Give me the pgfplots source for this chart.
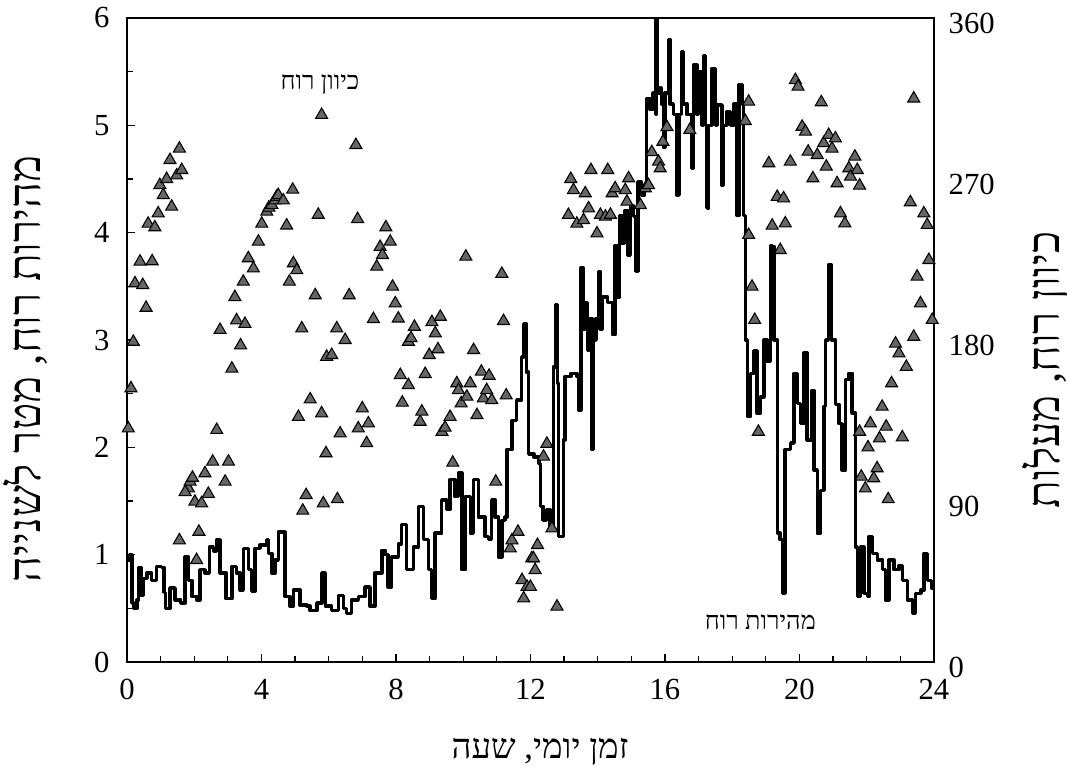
\documentclass[border=0pt]{standalone}
\usepackage{fontspec}
\setmainfont{Liberation Serif}
\newfontfamily\hebfont[Script=Hebrew]{Liberation Serif}
\usepackage{pgfplots}
\pgfplotsset{compat=1.18}
\TeXXeTstate=1
\newcommand{\heb}[1]{{\hebfont\beginR #1\endR}}

\pgfplotstableread{
h s
0 0.95
0.08 1.0
0.15 0.55
0.2 0.5
0.3 0.58
0.35 0.88
0.42 0.62
0.5 0.78
0.6 0.83
0.73 0.76
0.88 0.89
1.03 0.88
1.1 0.65
1.15 0.5
1.28 0.69
1.43 0.58
1.6 0.55
1.73 0.98
1.83 0.76
1.93 0.61
2.08 0.58
2.17 0.86
2.32 0.83
2.45 1.07
2.57 1.03
2.67 1.14
2.77 0.83
2.95 0.59
3.12 0.89
3.26 0.83
3.36 0.67
3.46 1.06
3.61 0.86
3.71 0.66
3.81 1.06
3.96 1.09
4.16 1.14
4.21 1.01
4.31 0.83
4.41 0.95
4.5 1.21
4.65 1.21
4.7 0.61
4.85 0.52
4.95 0.67
5.15 0.53
5.35 0.52
5.45 0.48
5.65 0.55
5.8 0.83
5.9 0.52
6.09 0.48
6.29 0.62
6.44 0.5
6.53 0.45
6.68 0.58
6.88 0.61
7.08 0.7
7.23 0.52
7.38 0.83
7.58 1.04
7.68 1.0
7.77 0.7
7.87 0.98
8.07 1.1
8.17 1.28
8.32 0.86
8.52 1.07
8.67 1.45
8.82 1.14
8.97 0.86
9.06 0.59
9.16 1.2
9.36 1.51
9.51 1.42
9.61 1.7
9.76 1.54
9.86 1.76
9.96 0.86
10.06 1.54
10.21 1.2
10.3 1.7
10.45 1.35
10.65 1.17
10.75 1.14
10.85 1.51
10.95 1.35
11.05 0.98
11.15 1.32
11.25 1.35
11.3 1.98
11.45 2.25
11.59 2.44
11.74 2.84
11.8 3.15
11.88 2.7
11.95 1.94
12.1 1.91
12.25 1.85
12.3 1.45
12.38 1.32
12.48 1.42
12.58 1.26
12.68 2.75
12.75 3.33
12.8 2.6
12.83 1.17
12.93 1.17
12.98 2.07
13.03 2.66
13.2 2.69
13.38 2.66
13.43 2.35
13.5 3.67
13.57 3.1
13.62 3.35
13.7 2.9
13.75 3.2
13.83 1.98
13.88 3.0
13.95 3.2
14.02 3.64
14.07 3.1
14.15 3.4
14.3 3.35
14.45 3.05
14.52 3.88
14.58 3.4
14.65 4.16
14.72 3.9
14.8 4.2
14.9 3.79
14.97 4.25
15.07 4.15
15.14 3.64
15.2 4.47
15.3 4.35
15.4 4.45
15.46 5.25
15.55 5.15
15.65 5.3
15.72 5.1
15.74 6.0
15.78 5.3
15.85 5.35
15.9 5.2
15.95 4.8
16.0 5.3
16.1 5.8
16.15 5.2
16.25 5.1
16.36 4.35
16.42 5.1
16.5 5.69
16.55 5.2
16.65 5.1
16.8 4.6
16.85 5.56
16.95 5.1
17.0 5.5
17.1 5.0
17.15 5.65
17.2 5.0
17.25 4.23
17.3 5.0
17.4 5.53
17.5 5.0
17.55 5.19
17.7 4.44
17.75 5.0
17.85 5.13
17.95 5.0
18.05 5.2
18.14 4.16
18.2 5.38
18.3 5.2
18.33 4.16
18.4 3.0
18.45 2.29
18.55 2.69
18.65 2.9
18.74 2.32
18.84 2.47
18.94 3.0
19.04 2.8
19.14 3.88
19.2 3.87
19.25 3.0
19.35 1.2
19.42 1.14
19.49 0.64
19.57 1.98
19.74 2.04
19.84 2.69
19.94 2.41
20.04 2.22
20.13 2.88
20.23 2.07
20.38 2.53
20.43 1.79
20.53 1.2
20.63 1.6
20.73 2.38
20.78 3.0
20.86 3.7
20.95 3.0
21.08 2.4
21.18 2.22
21.27 1.79
21.37 2.63
21.47 2.69
21.57 2.32
21.67 1.07
21.72 0.61
21.82 1.07
21.92 0.64
22.02 0.61
22.07 1.17
22.17 1.01
22.32 0.95
22.47 0.86
22.56 0.58
22.66 0.95
22.81 0.86
22.96 0.9
23.06 0.76
23.21 0.58
23.36 0.45
23.46 0.64
23.61 0.67
23.71 1.01
23.81 0.76
23.93 0.69
24.0 0.7
}\speed

\pgfplotstableread{
h d
0.04 130.6
0.12 153
0.19 179
0.24 211.7
0.39 223.8
0.47 210.7
0.57 198
0.63 245
0.75 224
0.83 243
0.93 250.8
0.98 266.6
1.08 261
1.18 270
1.28 280.6
1.33 254.5
1.48 272
1.56 287
1.63 275
1.56 68
1.83 97
1.88 100.8
1.95 103
1.73 95
2.02 89.6
2.07 57
2.14 72.8
2.22 88.7
2.32 105.5
2.42 94
2.55 112
2.67 129.7
2.77 185.6
2.92 100.8
3.02 112
3.12 164
3.21 204
3.26 191
3.38 177
3.46 212.6
3.51 189
3.61 225.7
3.76 220
3.91 235
4.01 245
4.16 251.7
4.22 254
4.31 255.5
4.4 258
4.45 260
4.5 261
4.65 258
4.75 244
4.83 212.6
4.93 264
4.95 222.9
5.05 219
5.1 137
5.2 186.5
5.23 84.6
5.33 93.3
5.45 146.8
5.6 205
5.69 250
5.79 305.8
5.79 139
5.84 88.7
5.92 116.7
5.94 170.6
6.09 171.6
6.24 186.5
6.34 127.8
6.49 180
6.26 91
6.61 205
6.81 289
6.86 247.6
6.88 130.6
7.0 141.8
7.13 122.3
7.18 133.4
7.33 191.7
7.43 221
7.53 232
7.6 227.5
7.7 243
7.83 235
7.9 209.8
7.98 200.5
8.07 192
8.13 160.4
8.19 145
8.37 154.8
8.37 179
8.45 181
8.55 187.4
8.72 134.3
8.77 140
8.87 161
8.99 171.6
9.07 190
9.17 183.7
9.25 174.8
9.32 193
9.37 128.6
9.46 131
9.61 137
9.69 111.4
9.81 155.8
9.86 152
9.94 144.6
10.08 226.6
10.11 148.3
10.21 155.8
10.31 174.4
10.41 138
10.54 162.3
10.6 147.4
10.7 152
10.77 160
10.85 146.4
10.97 100.8
11.15 217
11.2 190.6
11.28 149
11.4 63.5
11.45 68
11.63 72.8
11.75 45.8
11.8 35.6
11.9 42
12.0 42
12.04 58
12.09 58
12.14 51.4
12.21 65.4
12.39 114.8
12.49 122
12.64 74.7
12.79 31
13.13 249.9
13.2 270
13.28 263.8
13.38 245
13.58 247
13.63 262
13.73 253.6
13.8 275
13.98 239.6
14.08 249.9
14.23 249
14.3 275
14.38 250
14.43 262
14.52 264.8
14.82 263.8
14.87 257.3
14.92 270.4
15.27 255.4
15.42 264.8
15.51 266.6
15.61 285
15.81 279.7
15.86 276
15.94 290.8
16.06 299
16.74 297.4
18.39 302.4
18.49 313.2
18.49 238.7
18.59 209.8
18.67 191.2
18.78 128.7
19.09 278.8
19.19 243.9
19.34 260
19.43 230.3
19.53 259.2
19.58 245.2
19.73 279.7
19.88 325.3
19.96 321.6
20.08 299.2
20.18 296.5
20.26 285.3
20.4 270.4
20.53 283.4
20.65 312.9
20.72 290
20.8 276.9
20.87 294.6
20.97 287
21.07 292.7
21.12 267.6
21.22 250.8
21.35 245.2
21.47 276
21.52 271.3
21.65 282.5
21.72 275
21.79 266.3
21.79 128.7
21.84 103.6
21.96 97
22.04 120
22.11 133.4
22.21 102.7
22.31 108.3
22.38 125
22.46 142.7
22.58 131.6
22.64 91
22.74 155.8
22.86 178
22.96 172.5
23.06 125.6
23.18 165
23.3 257
23.4 315
23.4 181.8
23.5 215.4
23.6 200.5
23.7 250.8
23.8 244.3
23.85 224.7
23.95 191.2
}\direction

\begin{document}
\begin{tikzpicture}
\useasboundingbox (-47.6pt,-45.4pt) rectangle (352.5pt,248.25pt);
\begin{axis}[
  at={(0,0)}, anchor=south west,
  scale only axis, width=302.6pt, height=241.5pt,
  xmin=0, xmax=24, ymin=0, ymax=6,
  xtick={0,4,...,24}, minor x tick num=3,
  ytick={0,1,...,6}, minor y tick num=1,
  xtick pos=bottom, ytick pos=left, tick align=inside,
  major tick length=3pt, minor tick length=2.2pt,
  tick style={black, line width=0.5pt},
  axis line style={line width=0.6pt},
  ticklabel style={font=\fontsize{11.5}{12}\selectfont},
  /pgf/number format/assume math mode=true,
  xticklabel style={yshift=-3pt},
  yticklabel style={xshift=-3pt},
]
\addplot[const plot, black, line width=1.3pt, line join=round] table[x=h, y=s] {\speed};
\node[font=\fontsize{9.5}{11}\selectfont] at (axis cs:5.74,5.38) {\heb{כיוון רוח}};
\node[font=\fontsize{9.5}{11}\selectfont] at (axis cs:18.84,0.37) {\heb{מהירות רוח}};
\end{axis}
\begin{axis}[
  at={(0,0)}, anchor=south west,
  scale only axis, width=302.6pt, height=241.5pt,
  xmin=0, xmax=24, ymin=0, ymax=360,
  axis y line*=right, axis x line=none,
  ytick={0,90,180,270,360},
  major tick length=0pt,
  axis line style={line width=0.6pt},
  ticklabel style={font=\fontsize{11.5}{12}\selectfont},
  /pgf/number format/assume math mode=true,
  yticklabel style={yshift=-2pt, xshift=2pt},
]
\addplot[only marks, mark=triangle*, mark size=2.6pt, mark options={fill=black!60, draw=black, line width=0.4pt}] table[x=h, y=d] {\direction};
\end{axis}
\node[rotate=90, font=\fontsize{17}{19}\selectfont] at (-38.25pt,109.9pt) {\heb{מהירות רוח, מטר לשנייה}};
\node[rotate=90, font=\fontsize{17}{19}\selectfont] at (344.25pt,109.5pt) {\heb{כיוון רוח, מעלות}};
\node[font=\fontsize{13}{15}\selectfont] at (154.9pt,-33.75pt) {\heb{זמן יומי, שעה}};
\end{tikzpicture}
\end{document}
